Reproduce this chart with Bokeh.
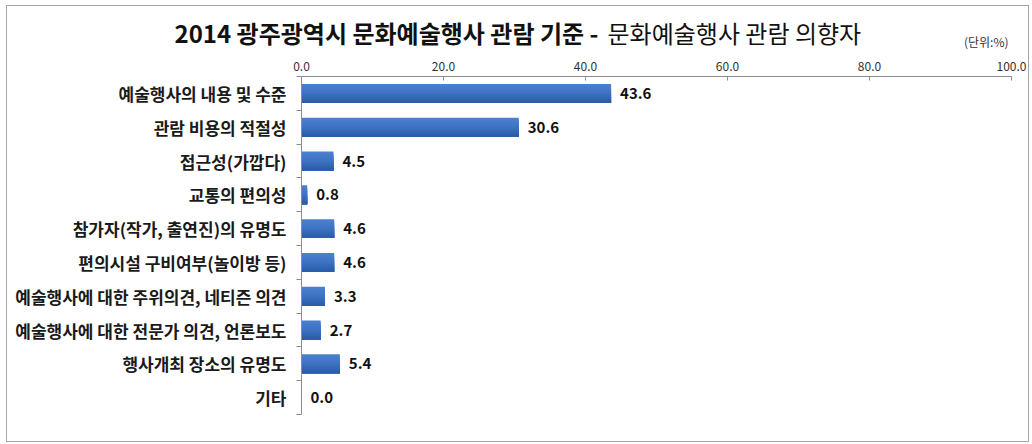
from bokeh.plotting import figure
from bokeh.layouts import column, row
from bokeh.models import Range1d, FixedTicker, NumeralTickFormatter, Label, LabelSet, ColumnDataSource
from bokeh.core.properties import value
from bokeh.embed import file_html
from bokeh.resources import INLINE

categories = [
    "예술행사의 내용 및 수준",
    "관람 비용의 적절성",
    "접근성(가깝다)",
    "교통의 편의성",
    "참가자(작가, 출연진)의 유명도",
    "편의시설 구비여부(놀이방 등)",
    "예술행사에 대한 주위의견, 네티즌 의견",
    "예술행사에 대한 전문가 의견, 언론보도",
    "행사개최 장소의 유명도",
    "기타",
]
values = [43.6, 30.6, 4.5, 0.8, 4.6, 4.6, 3.3, 2.7, 5.4, 0.0]
x_ticks = [0, 20, 40, 60, 80, 100]
title_bold = "2014 광주광역시 문화예술행사 관람 기준  -"
title_normal = "문화예술행사 관람 의향자"
unit_label = "(단위:%)"

KFONT = "Noto Sans CJK KR"
n_cat = len(categories)
idx = list(range(n_cat))
W = 1021
BL, BR = 294, 17
TH = 46  # title strip height

# ---- title strip: frame covers the whole strip, coordinates in page pixels ----
t = figure(width=W, height=TH, x_range=Range1d(7, 7 + W), y_range=Range1d(6 + TH, 6),
           output_backend="svg", toolbar_location=None, min_border=0)
t.axis.visible = False
t.grid.visible = False
t.outline_line_color = None
t.add_layout(Label(x=174, y=32, text=title_bold, text_font=KFONT, text_font_style="bold",
                   text_font_size="24px", text_baseline="middle", text_align="left",
                   text_color="#111111"))
t.add_layout(Label(x=607, y=32, text=title_normal, text_font=KFONT, text_font_style="normal",
                   text_font_size="24px", text_baseline="middle", text_align="left",
                   text_color="#111111"))
t.add_layout(Label(x=1008, y=41, text=unit_label, text_font=KFONT, text_font_size="12px",
                   text_baseline="middle", text_align="right", text_color="#333333"))

# ---- chart ----
p = figure(
    width=W, height=435 - TH,
    x_range=Range1d(0, 100), y_range=Range1d(n_cat - 0.5, -0.5),
    x_axis_location="above",
    output_backend="svg", toolbar_location=None,
    min_border_left=BL, min_border_right=BR, min_border_top=24, min_border_bottom=27,
)
p.outline_line_color = None
p.xgrid.visible = False
p.ygrid.visible = False

# bars with a soft vertical gradient (layers from full height down to bottom slice)
bar_h = 0.56
n_sl = 10
top_c = (76, 130, 208)
mid_c = (60, 114, 194)
bot_c = (42, 90, 164)
def mix(a, b, f):
    return "#%02x%02x%02x" % tuple(int(round(a[i] + (b[i] - a[i]) * f)) for i in range(3))
for k in range(n_sl):
    f = (k + 0.5) / n_sl
    col = mix(top_c, mid_c, f / 0.5) if f < 0.5 else mix(mid_c, bot_c, (f - 0.5) / 0.5)
    hk = bar_h * (n_sl - k) / n_sl
    p.hbar(y=[i + bar_h / 2 - hk / 2 for i in idx], left=0, right=values, height=hk,
           fill_color=col, line_color=None)

# value labels
src = ColumnDataSource(dict(x=values, y=idx, t=["%.1f" % v for v in values]))
p.add_layout(LabelSet(x="x", y="y", text="t", source=src, x_offset=9,
                      text_baseline="middle", text_align="left",
                      text_font=value(KFONT), text_font_style="bold", text_font_size="15px",
                      text_color="#111111"))

# x axis (above)
xa = p.xaxis[0]
xa.ticker = FixedTicker(ticks=x_ticks)
xa.formatter = NumeralTickFormatter(format="0.0")
xa.axis_line_color = "#8c8c8c"
xa.major_tick_line_color = "#8c8c8c"
xa.major_tick_in = 4
xa.major_tick_out = 0
xa.minor_tick_line_color = None
xa.major_label_text_font = KFONT
xa.major_label_text_font_size = "12px"
xa.major_label_text_color = "#333333"
xa.major_label_standoff = 6

# y axis (categories)
ya = p.yaxis[0]
ya.ticker = FixedTicker(ticks=idx, minor_ticks=[i - 0.5 for i in range(n_cat + 1)])
ya.major_label_overrides = {i: c for i, c in enumerate(categories)}
ya.axis_line_color = "#8c8c8c"
ya.major_tick_line_color = None
ya.major_tick_in = 0
ya.major_tick_out = 0
ya.minor_tick_line_color = "#8c8c8c"
ya.minor_tick_in = 0
ya.minor_tick_out = 5
ya.major_label_text_font = KFONT
ya.major_label_text_font_style = "bold"
ya.major_label_text_font_size = "17px"
ya.major_label_text_color = "#1a1a1a"
ya.major_label_standoff = 10

layout = column(row(t), p, spacing=0,
                styles={"border": "1px solid #a6a6a6", "margin-left": "6px", "margin-top": "5px"})

open("out.html", "w").write(file_html(layout, INLINE))
